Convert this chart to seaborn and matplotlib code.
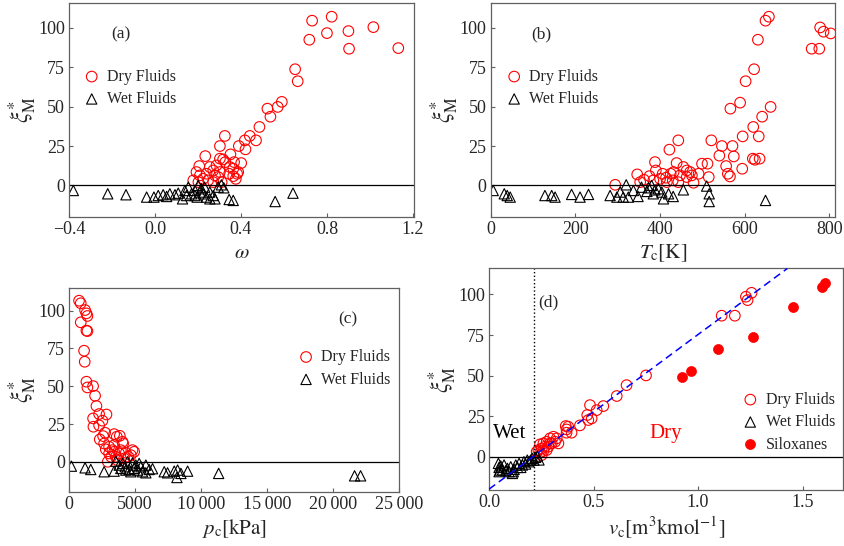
import matplotlib
matplotlib.use("Agg")
import matplotlib.pyplot as plt
import matplotlib.ticker as mticker
import seaborn as sns
import numpy as np

# ---------------- data ----------------
# Panel (a): acentric factor omega
a_dry_x = [0.731, 0.822, 0.718, 0.800, 0.900, 0.903, 1.016, 1.132, 0.652, 0.664, 0.590, 0.571,
           0.523, 0.537, 0.486, 0.470, 0.441, 0.418, 0.421, 0.390, 0.401, 0.325, 0.302, 0.234,
           0.206, 0.302, 0.317, 0.351, 0.368, 0.345, 0.364, 0.376, 0.382, 0.364, 0.327, 0.286,
           0.271, 0.255, 0.240, 0.224, 0.193, 0.178, 0.202, 0.247, 0.294, 0.271, 0.310, 0.209,
           0.302, 0.279, 0.348, 0.387]
a_dry_y = [104.5, 107.0, 92.4, 96.6, 97.9, 86.7, 100.4, 87.1, 73.7, 66.1, 53.0, 49.8,
           48.7, 43.6, 37.1, 28.6, 31.4, 28.6, 22.9, 25.0, 14.2, 31.4, 25.0, 18.6,
           12.3, 17.0, 16.5, 19.7, 14.8, 7.4, 5.9, 4.2, 7.4, 10.6, 14.8, 12.7,
           9.5, 11.7, 7.4, 4.2, 8.5, 3.2, 2.1, 3.2, 5.3, 2.1, 2.1, 6.4,
           8.5, 6.4, 11.7, 8.5]
a_wet_x = [-0.380, -0.220, -0.135, -0.039, -0.005, 0.015, 0.038, 0.054, 0.093, 0.108, 0.128,
           0.139, 0.155, 0.170, 0.186, 0.201, 0.209, 0.196, 0.224, 0.240, 0.255, 0.271, 0.255,
           0.279, 0.294, 0.309, 0.320, 0.345, 0.364, 0.559, 0.642, 0.216, 0.231, 0.186, 0.147,
           0.069]
a_wet_y = [-3.2, -5.3, -5.9, -7.4, -7.4, -6.4, -5.9, -7.0, -5.9, -4.9, -8.5,
           -3.2, -1.1, -5.3, -3.2, 0.0, -4.2, -7.4, -5.3, -7.4, -4.2, -6.4, -8.5,
           -8.5, -1.1, 0.4, -1.5, -8.9, -9.5, -10.2, -4.9, -2.1, -1.1, -6.4, -6.4,
           -5.3]

# Panel (b): critical temperature Tc [K]
b_dry_x = [657, 649, 631, 778, 786, 803, 758, 776, 622, 602, 589, 566, 661, 641, 620, 595,
           633, 521, 443, 422, 546, 571, 540, 574, 619, 635, 624, 556, 594, 560, 565, 515,
           499, 512, 491, 439, 388, 390, 346, 375, 294, 353, 362, 400, 414, 425, 430, 447,
           463, 475, 479, 416, 432, 463, 384, 443, 471, 406, 455]
b_dry_y = [107.0, 104.5, 92.4, 100.2, 97.5, 96.4, 86.7, 86.7, 73.7, 66.1, 52.5, 48.7, 49.8,
           43.6, 37.1, 31.1, 31.1, 28.6, 28.6, 22.7, 25.0, 25.0, 18.9, 18.4, 17.0, 17.0, 16.3,
           12.3, 10.6, 7.4, 5.7, 5.3, 13.8, 13.8, 7.4, 14.2, 14.8, 9.5, 7.0, 5.9, 0.4, 2.1,
           3.6, 4.2, 4.9, 7.4, 3.2, 6.4, 9.5, 6.4, 1.7, 2.1, 8.5, 5.3, 3.2, 2.1, 8.5, 7.4, 11.7]
b_wet_x = [6, 32, 39, 46, 128, 144, 152, 191, 211, 231, 282, 298, 306, 320, 325, 337, 348,
           356, 369, 380, 388, 396, 408, 420, 431, 455, 510, 516, 516, 649, 313, 384, 404, 373]
b_wet_y = [-3.2, -5.3, -6.4, -7.4, -6.4, -6.4, -7.4, -5.7, -7.4, -5.7, -6.4, -7.4, -4.2, 0.4,
           -7.4, -3.2, -7.0, -1.1, -3.8, 0.0, -2.8, -2.1, -8.5, -5.3, -7.0, -2.8, -0.4, -5.3,
           -10.2, -9.5, -7.4, -5.3, -4.2, -1.5]

# Panel (c): critical pressure pc [kPa]
c_dry_x = [759, 886, 1215, 1316, 1392, 886, 1316, 1392, 1139, 1189, 1316, 1392, 1822, 1973,
           2075, 2834, 2277, 1822, 2530, 1847, 2277, 2328, 2581, 2657, 2783, 3036, 2732, 3416,
           3618, 3846, 4048, 4099, 3416, 3289, 3036, 3188, 2935, 3542, 3795, 4301, 3669, 4807,
           4933, 4503, 3922, 4175, 3416, 4680]
c_dry_y = [106.6, 104.9, 100.4, 98.2, 96.5, 92.3, 86.8, 86.5, 73.5, 66.2, 53.0, 49.2, 50.1,
           43.7, 36.9, 31.3, 31.6, 28.7, 27.2, 23.2, 24.1, 14.8, 17.0, 12.1, 8.2, 9.9, 19.2,
           18.3, 16.6, 17.2, 13.2, 12.1, 11.0, 7.7, 5.5, 3.3, 0.0, 3.3, 5.5, 6.0, 1.1, 7.7,
           6.6, 3.3, 7.7, 2.2, 6.6, 4.4]
c_wet_x = [177, 1215, 1645, 2657, 3416, 3542, 3795, 4048, 4250, 4554, 4807, 4933, 5187, 5440,
           5566, 5819, 6072, 6325, 5313, 4680, 4301, 3922, 7211, 7464, 7970, 8223, 8172, 8476,
           8982, 11334, 21631, 22087, 5819, 5060, 4427]
c_wet_y = [-2.9, -4.0, -5.1, -6.6, -6.2, 0.4, -2.2, -1.1, -3.3, -5.1, -0.7, -4.4, -5.5, -3.3,
           -6.6, -7.3, -5.1, -4.6, -1.1, -6.6, -5.5, -4.4, -6.6, -7.3, -6.2, -5.5, -10.4, -7.7,
           -6.2, -7.7, -9.3, -9.3, -2.2, -2.2, 0.0]

# Panel (d): critical molar volume vc [m3/kmol]
d_dry_x = [1.256, 1.229, 1.237, 1.176, 1.113, 0.751, 0.658, 0.611, 0.547, 0.483, 0.515,
           0.470, 0.491, 0.475, 0.435, 0.371, 0.395, 0.367, 0.371, 0.379, 0.332, 0.308,
           0.292, 0.276, 0.260, 0.244, 0.252, 0.268, 0.284, 0.300, 0.316, 0.228, 0.244,
           0.236, 0.252, 0.260, 0.276, 0.324, 0.292]
d_dry_y = [101.0, 98.6, 96.5, 86.9, 86.9, 50.1, 44.1, 37.4, 31.2, 31.8, 28.7,
           25.7, 23.6, 22.6, 19.3, 14.8, 14.8, 18.9, 16.8, 18.5, 8.2, 12.3,
           11.3, 9.2, 8.2, 7.6, 5.1, 6.2, 6.2, 8.2, 9.2, 3.1, 2.5,
           4.1, 1.0, 3.5, 4.1, 11.3, 8.2]
d_wet_x = [0.048, 0.064, 0.072, 0.088, 0.104, 0.120, 0.128, 0.144, 0.160, 0.167, 0.183, 0.191,
           0.207, 0.215, 0.223, 0.048, 0.096, 0.112, 0.080, 0.152, 0.175, 0.199, 0.136, 0.056,
           0.239, 0.231, 0.045, 0.053, 0.116]
d_wet_y = [-6.6, -8.2, -5.1, -7.2, -6.2, -7.8, -5.1, -4.1, -5.1, -3.1, -2.1, -3.1,
           -1.0, -2.1, -0.4, -9.2, -9.2, -10.3, -8.6, -6.6, -4.5, -2.1, -6.6, -5.7,
           -2.0, 0.4, -4.1, -8.2, -9.2]
d_sil_x = [0.921, 0.964, 1.094, 1.264, 1.455, 1.591, 1.607]
d_sil_y = [49.3, 53.0, 66.1, 73.9, 92.4, 104.7, 106.8]

fit_intercept = -20.0
fit_slope = 95.3
vc_boundary = 0.217

# ---------------- style ----------------
sns.set_style("ticks")
plt.rcParams["font.family"] = ["Liberation Serif", "DejaVu Serif"]
plt.rcParams["mathtext.fontset"] = "stix"
plt.rcParams["axes.edgecolor"] = "#606060"
plt.rcParams["axes.linewidth"] = 0.9

TICK_FS = 13
XLAB_FS = 15
YLAB_FS = 17
LEG_FS = 11.5
PANEL_FS = 12.5

fig = plt.figure(figsize=(8.44, 5.46), dpi=100)
ax_a = fig.add_axes([0.0818, 0.6026, 0.4087, 0.3919])
ax_b = fig.add_axes([0.5814, 0.6026, 0.4079, 0.3919])
ax_c = fig.add_axes([0.0818, 0.0989, 0.3910, 0.3736])
ax_d = fig.add_axes([0.5794, 0.1026, 0.4198, 0.4057])

dry_kw = dict(marker="o", s=58, facecolor="none", edgecolor="red", linewidth=0.8)
wet_kw = dict(marker="^", s=55, facecolor="none", edgecolor="black", linewidth=0.8)

def base(ax):
    ax.axhline(0, color="black", lw=0.9, zorder=1)
    ax.tick_params(direction="in", length=3, width=0.8, labelsize=TICK_FS, pad=3,
                   color="#606060")
    ax.set_yticks([0, 25, 50, 75, 100])
    ax.set_ylabel(r"$\xi^{*}_{\rm M}$", fontsize=YLAB_FS, labelpad=-1)

def legend(ax, x, y):
    ax.legend(loc="center left", bbox_to_anchor=(x, y), frameon=False, fontsize=LEG_FS,
              borderpad=0, borderaxespad=0, handlelength=1.0, handletextpad=0.45,
              labelspacing=0.4)

# (a)
sns.scatterplot(x=a_dry_x, y=a_dry_y, ax=ax_a, label="Dry Fluids", **dry_kw)
sns.scatterplot(x=a_wet_x, y=a_wet_y, ax=ax_a, label="Wet Fluids", **wet_kw)
base(ax_a)
ax_a.set_xlim(-0.4, 1.205)
ax_a.set_ylim(-20, 115.7)
ax_a.set_xticks([-0.4, 0.0, 0.4, 0.8, 1.2])
ax_a.xaxis.set_major_formatter(mticker.FuncFormatter(lambda v, p: f"{v:.1f}".replace("-", "\u2212")))
ax_a.set_xlabel(r"$\omega$", fontsize=XLAB_FS, labelpad=4)
ax_a.text(0.15, 0.854, "(a)", transform=ax_a.transAxes, fontsize=PANEL_FS,
          ha="center", va="center")
legend(ax_a, 0.0426, 0.603)

# (b)
sns.scatterplot(x=b_dry_x, y=b_dry_y, ax=ax_b, label="Dry Fluids", **dry_kw)
sns.scatterplot(x=b_wet_x, y=b_wet_y, ax=ax_b, label="Wet Fluids", **wet_kw)
base(ax_b)
ax_b.set_xlim(0, 813)
ax_b.set_ylim(-20, 115.7)
ax_b.set_xticks([0, 200, 400, 600, 800])
ax_b.set_xlabel(r"$T_{\rm c}[{\rm K}]$", fontsize=XLAB_FS, labelpad=3)
ax_b.text(0.146, 0.854, "(b)", transform=ax_b.transAxes, fontsize=PANEL_FS,
          ha="center", va="center")
legend(ax_b, 0.045, 0.603)

# (c)
sns.scatterplot(x=c_dry_x, y=c_dry_y, ax=ax_c, label="Dry Fluids", **dry_kw)
sns.scatterplot(x=c_wet_x, y=c_wet_y, ax=ax_c, label="Wet Fluids", **wet_kw)
base(ax_c)
ax_c.set_xlim(0, 25000)
ax_c.set_ylim(-20, 115)
ax_c.set_xticks([0, 5000, 10000, 15000, 20000, 25000])
ax_c.xaxis.set_major_formatter(mticker.FuncFormatter(
    lambda v, p: f"{int(v):,}".replace(",", "\u2009") if v >= 10000 else f"{int(v)}"))
ax_c.set_xlabel(r"$p_{\rm c}[{\rm kPa}]$", fontsize=XLAB_FS, labelpad=3)
ax_c.text(0.846, 0.847, "(c)", transform=ax_c.transAxes, fontsize=PANEL_FS,
          ha="center", va="center")
legend(ax_c, 0.694, 0.606)

# (d)
sns.scatterplot(x=d_dry_x, y=d_dry_y, ax=ax_d, label="Dry Fluids", **dry_kw)
sns.scatterplot(x=d_wet_x, y=d_wet_y, ax=ax_d, label="Wet Fluids", **wet_kw)
sns.scatterplot(x=d_sil_x, y=d_sil_y, ax=ax_d, label="Siloxanes", marker="o", s=52,
                color="red", edgecolor="red", linewidth=0.5)
base(ax_d)
ax_d.axline((0, fit_intercept), slope=fit_slope, color="blue", ls=(0, (5, 3)), lw=1.1, zorder=3)
ax_d.axvline(vc_boundary, color="black", ls=":", lw=1.0, zorder=1)
ax_d.set_xlim(0, 1.695)
ax_d.set_ylim(-20.5, 116)
ax_d.set_xticks([0.0, 0.5, 1.0, 1.5])
ax_d.xaxis.set_major_formatter(mticker.FormatStrFormatter("%.1f"))
ax_d.set_xlabel(r"$v_{\rm c}[{\rm m^3 kmol^{-1}}]$", fontsize=XLAB_FS, labelpad=3)
ax_d.text(0.167, 0.845, "(d)", transform=ax_d.transAxes, fontsize=PANEL_FS,
          ha="center", va="center")
ax_d.text(0.059, 0.255, "Wet", transform=ax_d.transAxes, fontsize=15,
          ha="center", va="center", color="black")
ax_d.text(0.499, 0.255, "Dry", transform=ax_d.transAxes, fontsize=15,
          ha="center", va="center", color="red")
legend(ax_d, 0.715, 0.306)

fig.savefig("out.png", dpi=100)
